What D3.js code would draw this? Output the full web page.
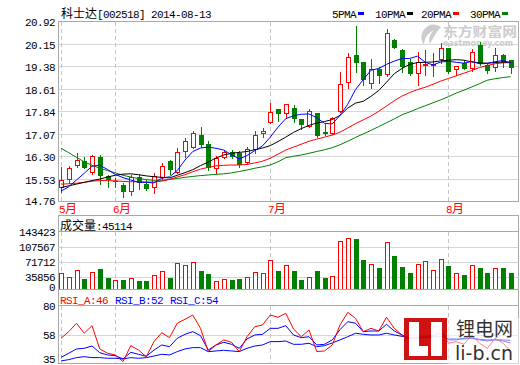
<!DOCTYPE html>
<html><head><meta charset="utf-8">
<script src="https://cdn.jsdelivr.net/npm/d3@7"></script>
<style>body{margin:0;background:#fff}svg{display:block}</style>
</head><body><svg id="c" width="520" height="365"></svg>
<script>
// ---------- data ----------
const stockTitle = "科士达[002518] 2014-08-13";
const months = ["5月", "6月", "7月", "8月"];
const monthStart = [0, 7, 27, 50];
const openP = [15.25,15.52,16.00,16.14,15.78,16.29,15.64,15.45,15.34,15.13,15.60,15.36,15.27,15.59,16.15,15.78,16.50,16.63,17.03,16.73,15.90,16.29,16.46,16.41,16.10,16.55,17.11,17.47,17.91,17.79,17.94,17.58,17.35,17.77,17.12,17.11,17.86,18.83,19.76,19.51,18.79,19.27,19.11,20.27,19.93,19.53,19.16,19.42,19.43,19.61,19.99,19.27,19.50,19.33,20.10,19.42,19.34,19.76,19.59];
const closeP = [15.49,15.90,16.19,15.95,16.32,15.66,15.52,15.46,15.13,15.59,15.42,15.22,15.64,15.98,15.86,16.46,16.83,17.09,16.73,15.93,16.24,16.44,16.33,16.04,16.55,17.03,17.17,17.81,17.79,18.08,17.62,17.41,17.85,17.03,17.10,17.60,18.76,19.68,19.53,18.93,19.27,19.08,20.50,20.04,19.38,19.16,19.53,19.45,19.46,19.99,19.22,19.38,19.31,19.87,19.48,19.25,19.76,19.53,19.34];
const highP = [15.95,15.98,16.41,16.29,16.35,16.35,15.67,15.56,15.39,15.67,15.69,15.50,15.75,16.09,16.18,16.60,16.92,17.17,17.32,16.83,16.32,16.49,16.52,16.50,16.63,17.17,17.28,18.13,17.91,18.08,18.05,17.58,17.91,17.79,17.41,17.66,19.19,19.84,20.75,19.51,19.61,19.36,20.63,20.29,19.95,19.61,19.87,19.93,19.82,20.18,20.00,19.38,19.59,19.95,20.21,19.50,19.99,19.79,19.59];
const lowP = [15.10,15.39,15.93,15.90,15.70,15.36,15.27,15.27,14.91,14.99,15.20,15.16,15.07,15.52,15.70,15.73,16.29,16.58,16.61,15.84,15.73,16.24,16.24,15.93,16.04,16.41,16.97,17.43,17.52,17.60,17.49,17.24,17.32,16.97,17.03,17.07,17.80,18.62,19.19,18.74,18.64,18.79,19.04,19.99,19.19,19.08,18.74,19.08,19.04,19.48,19.13,19.08,19.27,19.22,19.42,19.16,19.22,19.36,19.13];
const volume = [43976,34416,51146,30353,46366,54253,32743,27246,27963,32026,25573,25573,39196,48756,32743,67876,63096,70266,49473,42303,24856,29636,27963,30353,34416,46366,43976,75046,49473,63096,49473,27963,34416,49473,32743,37523,120456,127626,125953,75763,65486,56643,118066,85323,59033,44693,65486,72656,51146,77436,61423,43976,39913,63096,56643,44693,55926,56643,45114];
const ma5 = [15.12,15.27,15.50,15.73,15.97,16.00,15.86,15.69,15.58,15.50,15.42,15.42,15.40,15.56,15.61,15.82,16.18,16.47,16.59,16.62,16.58,16.52,16.36,16.22,16.33,16.50,16.66,16.96,17.30,17.59,17.69,17.74,17.75,17.62,17.43,17.41,17.70,18.08,18.58,18.92,19.24,19.30,19.44,19.55,19.64,19.64,19.72,19.51,19.42,19.52,19.54,19.51,19.48,19.54,19.46,19.47,19.53,19.57,19.49];
const ma10 = [15.24,15.30,15.36,15.42,15.48,15.53,15.60,15.66,15.70,15.71,15.68,15.64,15.61,15.59,15.57,15.66,15.75,15.85,15.99,16.11,16.25,16.35,16.41,16.44,16.47,16.53,16.59,16.67,16.81,16.96,17.12,17.25,17.36,17.44,17.49,17.56,17.70,17.95,18.12,18.18,18.35,18.55,18.83,19.12,19.30,19.44,19.50,19.51,19.52,19.56,19.58,19.60,19.58,19.52,19.49,19.48,19.50,19.52,19.51];
const ma20 = [15.36,15.37,15.39,15.42,15.46,15.48,15.48,15.47,15.45,15.44,15.44,15.43,15.43,15.46,15.52,15.60,15.68,15.78,15.87,15.93,15.98,16.00,16.01,16.01,16.03,16.08,16.14,16.24,16.38,16.52,16.62,16.72,16.82,16.89,16.96,17.03,17.13,17.27,17.42,17.55,17.68,17.84,18.02,18.20,18.36,18.48,18.58,18.66,18.76,18.87,18.96,19.05,19.14,19.23,19.33,19.40,19.46,19.49,19.50];
const ma30 = [16.58,16.43,16.27,16.12,16.00,15.90,15.82,15.74,15.66,15.60,15.55,15.51,15.49,15.49,15.52,15.55,15.59,15.62,15.65,15.67,15.69,15.71,15.74,15.79,15.84,15.90,15.95,16.01,16.12,16.26,16.31,16.35,16.41,16.47,16.53,16.60,16.70,16.82,16.95,17.07,17.19,17.32,17.45,17.58,17.72,17.82,17.93,18.03,18.13,18.23,18.34,18.46,18.56,18.67,18.78,18.90,18.95,18.99,19.02];
const rsiA = [55.5,60.5,66.8,59.3,65,47.5,44.3,43,38,50,46.7,41.7,53,59.7,56,66.8,69.8,73,63,45.5,50.5,54.3,52.5,45.5,56.7,64.2,65.5,73,71.3,74.3,62.5,56.7,61.8,45.5,46,50.5,65.5,75,70.5,60.5,63,61,71.3,63,58,54.3,56.7,56.5,56.8,63,51.8,53,51,58,51.8,48,55.5,52,46];
const rsiB = [41.2,44.3,47.5,48,49.7,44.7,43,42.5,40,45,43.5,42,46.7,50.5,49.2,55.5,58.5,60.5,57.5,46.7,50.5,52.5,51,48,55,58,58.5,63,63,65,58,56,56.7,50.5,51,54.3,62,68,66.8,60.5,61,61,66,61,58,55.5,55.5,56.7,58,59.3,54.3,54.3,55.5,55.5,54.3,53.5,54.3,53.5,52];
const rsiC = [38.5,39.5,41,41.7,41,41,40.5,40.5,40,41,40.5,41,42.2,43.5,43,45.5,47.5,48.5,48.5,45.5,46,46.5,46,45.5,48,49.7,50.5,53,53,53.5,51,51,51.8,49.2,50,52,54.3,56.7,59.3,58.5,58,58,59.3,58,57,56,56,56,56.5,57,55,55,55,55.5,54.8,54.3,54.5,54.3,54];
const priceTicks = ["20.92","20.15","19.38","18.61","17.84","17.07","16.30","15.53","14.76"];
const volTicks = [143423,107567,71712,35856,0];
const rsiTicks = [80,58,35];
const maNames = ["5PMA","10PMA","20PMA","30PMA"];
const volLabel = "成交量:45114";
const rsiLabels = ["RSI_A:46","RSI_B:52","RSI_C:54"];

// ---------- styles ----------
const RED = "#ff0000", GREEN = "#008000", BLUE = "#0000ff", BLACK = "#000000";
const FRAME = "#a9a9a9", GRID = "#d6d6d6", DASH = "#c4c4c4";
const MONO = "'Liberation Mono','DejaVu Sans Mono',monospace";
const CJK = "'Noto Sans CJK SC','Noto Sans',sans-serif";

const svg = d3.select("#c");
const L = 58.5, R = 518.5;
const n = closeP.length;
const x = d3.scaleLinear().domain([0, n - 1]).range([61, 510.5]);
const yP = d3.scaleLinear().domain([14.76, 20.92]).range([201.7, 20.9]);
const yV = d3.scaleLinear().domain([0, 143423]).range([291.7, 231.7]);
const yR = d3.scaleLinear().domain([35, 80]).range([365.6, 305.7]);
const px = v => Math.round(v);
const cxOf = i => px(x(i));

function mixed(g, tx, ty, str, color, size) {
  const t = g.append("text").attr("x", tx).attr("y", ty).attr("fill", color);
  const runs = str.match(/[\u3000-\u9fff\uff00-\uffef]+|[^\u3000-\u9fff\uff00-\uffef]+/g);
  runs.forEach(r => {
    const isC = /[\u3000-\u9fff]/.test(r);
    t.append("tspan").text(r)
      .attr("font-family", isC ? CJK : MONO)
      .attr("font-size", isC ? (size || 12) : 11)
      .attr("letter-spacing", isC ? 0 : -0.6)
      .attr("xml:space", "preserve");
  });
  return t;
}

const defs = svg.append("defs");
defs.append("clipPath").attr("id", "cm").append("rect").attr("x", L).attr("y", 21.5).attr("width", R - L).attr("height", 180);
defs.append("clipPath").attr("id", "cv").append("rect").attr("x", L).attr("y", 231.5).attr("width", R - L).attr("height", 58);
defs.append("clipPath").attr("id", "cr").append("rect").attr("x", L).attr("y", 305.5).attr("width", R - L).attr("height", 58);

// ---------- header ----------
mixed(svg, 61, 18, stockTitle, "#000", 12);
const legX = [332, 375, 421, 470];
const legC = [BLUE, BLACK, RED, GREEN];
maNames.forEach((m, k) => {
  svg.append("text").attr("x", legX[k]).attr("y", 18).text(m)
    .attr("font-family", MONO).attr("font-size", 11).attr("letter-spacing", -0.6);
  svg.append("rect").attr("x", legX[k] + m.length * 6 + 2).attr("y", 12).attr("width", 6).attr("height", 3).attr("fill", legC[k]);
});

// ---------- main panel ----------
const gm = svg.append("g");
priceTicks.forEach((t, k) => {
  const yy = px(yP(+t)) + 0.5;
  if (k > 0 && k < priceTicks.length - 1)
    gm.append("line").attr("x1", L).attr("x2", R).attr("y1", yy).attr("y2", yy).attr("stroke", GRID);
  gm.append("text").attr("x", 55).attr("y", Math.min(Math.max(yy, 20), 201) + 4).attr("text-anchor", "end")
    .attr("font-family", MONO).attr("font-size", 11).attr("letter-spacing", -0.6).text(t);
});
function dashes(y1, y2) {
  monthStart.forEach(s => {
    svg.append("line").attr("x1", cxOf(s) + 0.5).attr("x2", cxOf(s) + 0.5).attr("y1", y1).attr("y2", y2)
      .attr("stroke", DASH).attr("stroke-dasharray", "4,3");
  });
}
dashes(22, 201);
months.forEach((m, k) => {
  mixed(svg, cxOf(monthStart[k]) - 2, 213, m, RED, 12);
});

// eastmoney watermark (behind the data)
const wm = svg.append("g").attr("fill", "#cccccc");
wm.append("path").attr("d", "M430,25 C421,29 419,38 424,45 C424,38 428,33 434,30 C430,34 428,39 430,44 C434,36 438,30 441,27 C438,25 434,24 430,25 Z");
wm.append("text").attr("x", 443).attr("y", 36).attr("font-family", CJK).attr("font-size", 13).attr("font-weight", "bold")
  .attr("textLength", 74).attr("lengthAdjust", "spacingAndGlyphs").text("东方财富网");
wm.append("text").attr("x", 443).attr("y", 46).attr("font-family", "'DejaVu Sans',sans-serif").attr("font-size", 8.5).attr("font-weight", "bold")
  .attr("textLength", 70).attr("lengthAdjust", "spacingAndGlyphs").text("eastmoney.com");

// candles
const gc = svg.append("g").attr("clip-path", "url(#cm)");
d3.range(n).forEach(i => {
  const cx = cxOf(i);
  const o = openP[i], c = closeP[i];
  const up = c >= o;
  const yT = px(yP(Math.max(o, c))), yB = px(yP(Math.min(o, c)));
  const yH = px(yP(highP[i])), yL = px(yP(lowP[i]));
  if (up) {
    gc.append("line").attr("x1", cx + 0.5).attr("x2", cx + 0.5).attr("y1", yH).attr("y2", yT).attr("stroke", RED);
    gc.append("line").attr("x1", cx + 0.5).attr("x2", cx + 0.5).attr("y1", yB).attr("y2", yL + 1).attr("stroke", RED);
    if (yB - yT < 1) {
      gc.append("line").attr("x1", cx - 2).attr("x2", cx + 3).attr("y1", yT + 0.5).attr("y2", yT + 0.5).attr("stroke", RED);
    } else {
      gc.append("rect").attr("x", cx - 1.5).attr("y", yT + 0.5).attr("width", 4).attr("height", yB - yT)
        .attr("fill", "#fff").attr("stroke", RED);
    }
  } else {
    gc.append("line").attr("x1", cx + 0.5).attr("x2", cx + 0.5).attr("y1", yH).attr("y2", yL + 1).attr("stroke", GREEN);
    gc.append("rect").attr("x", cx - 2).attr("y", yT).attr("width", 5).attr("height", Math.max(1, yB - yT + 1)).attr("fill", GREEN);
  }
});
const lineP = d3.line().x((d, i) => x(i)).y(d => yP(d));
[[ma30, GREEN], [ma20, RED], [ma10, BLACK], [ma5, BLUE]].forEach(([arr, col]) => {
  gc.append("path").attr("d", lineP(arr)).attr("fill", "none").attr("stroke", col).attr("stroke-width", 1);
});
gm.append("rect").attr("x", L).attr("y", 21.5).attr("width", R - L).attr("height", 180).attr("fill", "none").attr("stroke", FRAME);

// ---------- volume panel ----------
const gv = svg.append("g");
gv.append("rect").attr("x", L).attr("y", 215.5).attr("width", R - L).attr("height", 74).attr("fill", "none").attr("stroke", FRAME);
gv.append("line").attr("x1", L).attr("x2", R).attr("y1", 231.5).attr("y2", 231.5).attr("stroke", FRAME);
volTicks.forEach((t, k) => {
  const yy = px(yV(t)) + 0.5;
  if (k > 0 && t > 0)
    gv.append("line").attr("x1", L).attr("x2", R).attr("y1", yy).attr("y2", yy).attr("stroke", GRID);
  gv.append("text").attr("x", 55).attr("y", (t === 0 ? 287 : yy) + 3.5).attr("text-anchor", "end")
    .attr("font-family", MONO).attr("font-size", 11).attr("letter-spacing", -0.6).text(t);
});
dashes(232, 289);
mixed(svg, 60, 229.5, volLabel, "#000", 12);
const gvb = svg.append("g").attr("clip-path", "url(#cv)");
d3.range(n).forEach(i => {
  const cx = cxOf(i);
  const up = closeP[i] >= openP[i];
  const yt = px(yV(volume[i]));
  if (up) {
    gvb.append("rect").attr("x", cx - 1.5).attr("y", yt + 0.5).attr("width", 4).attr("height", 300 - yt)
      .attr("fill", "#fff").attr("stroke", RED);
  } else {
    gvb.append("rect").attr("x", cx - 2).attr("y", yt).attr("width", 5).attr("height", 300 - yt).attr("fill", GREEN);
  }
});

// ---------- RSI panel ----------
const gr = svg.append("g");
gr.append("rect").attr("x", L).attr("y", 289.5).attr("width", R - L).attr("height", 74).attr("fill", "none").attr("stroke", FRAME);
gr.append("line").attr("x1", L).attr("x2", R).attr("y1", 305.5).attr("y2", 305.5).attr("stroke", FRAME);
rsiTicks.forEach((t, k) => {
  const yy = px(yR(t)) + 0.5;
  if (k === 1)
    gr.append("line").attr("x1", L).attr("x2", R).attr("y1", yy).attr("y2", yy).attr("stroke", GRID);
  gr.append("text").attr("x", 55).attr("y", Math.min(Math.max(yy, 306), 359.5) + 3.5).attr("text-anchor", "end")
    .attr("font-family", MONO).attr("font-size", 11).attr("letter-spacing", -0.6).text(t);
});
dashes(306, 363);
const rsiCol = [RED, BLUE, BLUE];
let rx = 60;
rsiLabels.forEach((s, k) => {
  svg.append("text").attr("x", rx).attr("y", 303.5).attr("fill", rsiCol[k])
    .attr("font-family", MONO).attr("font-size", 11).attr("letter-spacing", -0.6).text(s);
  rx += (s.length + 1) * 6 + 1;
});
const grl = svg.append("g").attr("clip-path", "url(#cr)");
const lineR = d3.line().x((d, i) => x(i)).y(d => yR(d));
[[rsiC, BLUE], [rsiB, BLUE], [rsiA, RED]].forEach(([arr, col]) => {
  grl.append("path").attr("d", lineR(arr)).attr("fill", "none").attr("stroke", col).attr("stroke-width", 1);
});

// li-b.cn logo
const lg = svg.append("g").attr("opacity", 0.92);
lg.append("rect").attr("x", 404).attr("y", 318).attr("width", 43).attr("height", 42).attr("fill", "#cc0000");
lg.append("rect").attr("x", 409).attr("y", 322).attr("width", 10).attr("height", 34).attr("fill", "#fff");
lg.append("rect").attr("x", 409).attr("y", 346).attr("width", 19).attr("height", 10).attr("fill", "#fff");
lg.append("rect").attr("x", 431).attr("y", 322).attr("width", 11).attr("height", 34).attr("fill", "#fff");
lg.append("rect").attr("x", 447).attr("y", 318).attr("width", 73).attr("height", 47).attr("fill", "#fff").attr("opacity", 0.55);
lg.append("text").attr("x", 456).attr("y", 336).attr("font-family", CJK).attr("font-size", 19).attr("fill", "#222").text("锂电网");
lg.append("text").attr("x", 455).attr("y", 360).attr("font-family", "'DejaVu Sans',sans-serif").attr("font-size", 19).attr("fill", "#222").text("li-b.cn");
</script>
</body></html>
